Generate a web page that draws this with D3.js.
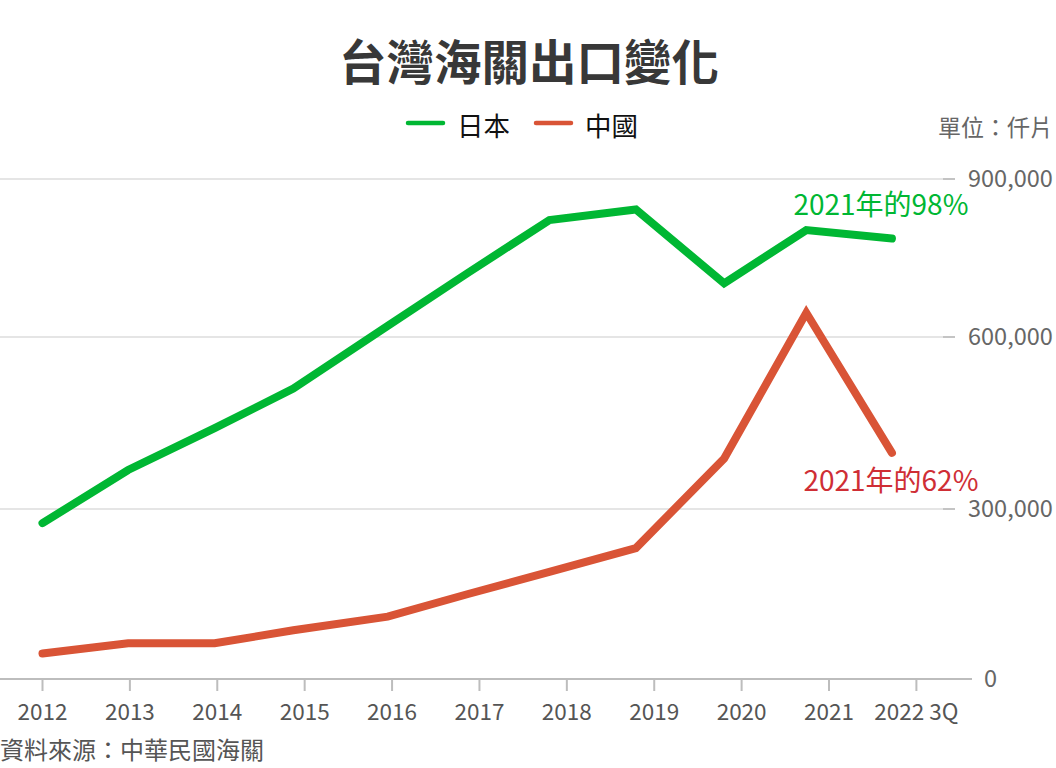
<!DOCTYPE html>
<html><head><meta charset="utf-8">
<script src="https://cdn.jsdelivr.net/npm/d3@7"></script>
<style>
html,body{margin:0;padding:0;background:#fff;}
svg{display:block;font-family:"Noto Sans CJK TC","Noto Sans CJK SC",sans-serif;}
</style></head>
<body>
<svg id="c" width="1056" height="768"></svg>
<script>
// ---- data ----
const tickYears = [2012,2013,2014,2015,2016,2017,2018,2019,2020,2021,2022];
const tickLabels = ["2012","2013","2014","2015","2016","2017","2018","2019","2020","2021","2022 3Q"];
// time position of each observation (fractional year)
const periods = [2012,2012.98,2013.97,2014.87,2015.95,2016.87,2017.8,2018.79,2019.8,2020.74,2021.72];
const japan = [275000,368000,441000,510000,621000,722000,822000,842000,702000,803000,787000];
const china = [45000,63000,63000,86000,110000,150000,189000,231000,388000,646000,398000];
const yTicks = [0,300000,600000,900000];
const seriesNames = ["日本","中國"];
const seriesColors = ["#00b733","#d95436"];
const annotations = [
  {text:"2021年的98%", series:0, idx:10, color:"#00b733"},
  {text:"2021年的62%", series:1, idx:10, color:"#cf2e35"}
];

const svg = d3.select("#c");
const x = d3.scaleLinear().domain([2012,2022]).range([42.5,916.4]);
const y = d3.scaleLinear().domain(yTicks).range([679,509,337,179]);

// title
svg.append("text").attr("x",529).attr("y",80).attr("text-anchor","middle")
  .attr("font-size",47.5).attr("font-weight",700).attr("fill","#383838").text("台灣海關出口變化");

// legend
const legX = [408,536];
seriesNames.forEach((n,i)=>{
  svg.append("line").attr("x1",legX[i]).attr("x2",legX[i]+35).attr("y1",123).attr("y2",123)
    .attr("stroke",seriesColors[i]).attr("stroke-width",4.5).attr("stroke-linecap","round");
  svg.append("text").attr("x",legX[i]+49).attr("y",136).attr("font-size",26.5).attr("fill","#111").text(n);
});
svg.append("text").attr("x",1053).attr("y",136).attr("text-anchor","end")
  .attr("font-size",23).attr("fill","#666").text("單位：仟片");

// grid + y labels
yTicks.forEach(v=>{
  if(v!==0){
    svg.append("line").attr("x1",0).attr("x2",943).attr("y1",y(v)).attr("y2",y(v))
      .attr("stroke","#dcdcdc").attr("stroke-width",1.6);
    svg.append("line").attr("x1",943).attr("x2",955).attr("y1",y(v)).attr("y2",y(v))
      .attr("stroke","#b5b5b5").attr("stroke-width",1.6);
  }
  svg.append("text").attr("x",v===0?984:968).attr("y",y(v)+8).attr("font-size",23.5)
    .attr("fill","#666").text(d3.format(",")(v));
});

// x axis
svg.append("line").attr("x1",0).attr("x2",972).attr("y1",y(0)).attr("y2",y(0))
  .attr("stroke","#bdbdbd").attr("stroke-width",2);
tickYears.forEach((t,i)=>{
  svg.append("line").attr("x1",x(t)).attr("x2",x(t)).attr("y1",y(0)).attr("y2",y(0)+12)
    .attr("stroke","#bdbdbd").attr("stroke-width",2);
  svg.append("text").attr("x",x(t)).attr("y",720).attr("text-anchor","middle")
    .attr("font-size",22.5).attr("fill","#555").text(tickLabels[i]);
});

// lines
const line = d3.line().x(d=>x(d[0])).y(d=>y(d[1]));
[japan,china].forEach((s,i)=>{
  svg.append("path").datum(periods.map((p,j)=>[p,s[j]])).attr("d",line)
    .attr("fill","none").attr("stroke",seriesColors[i]).attr("stroke-width",8)
    .attr("stroke-linecap","round").attr("stroke-linejoin","miter");
});

// annotations
const annPos = [{dx:-11,dy:-24},{dx:-1,dy:38}];
annotations.forEach((a,i)=>{
  const s = a.series===0?japan:china;
  svg.append("text").attr("x",x(periods[a.idx])+annPos[i].dx).attr("y",y(s[a.idx])+annPos[i].dy)
    .attr("text-anchor","middle").attr("font-size",28).attr("fill",a.color).text(a.text);
});

// source
svg.append("text").attr("x",0).attr("y",759).attr("font-size",24).attr("fill","#555").text("資料來源：中華民國海關");
</script>
</body></html>
